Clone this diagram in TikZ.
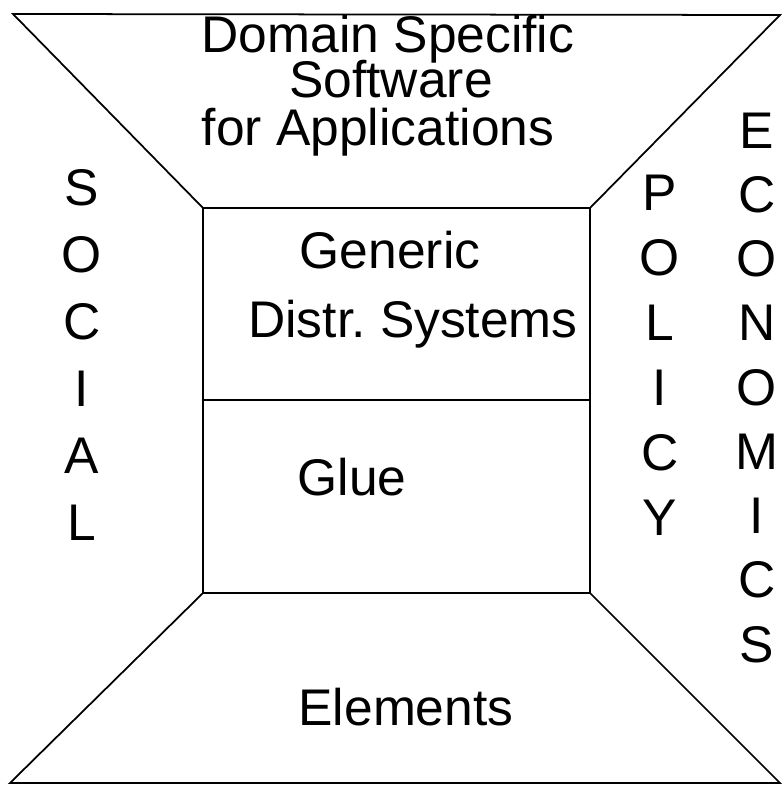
\documentclass[tikz,border=0pt]{standalone}
\usepackage{fontspec}
\setmainfont{Liberation Sans}
\frenchspacing

\begin{document}
\begin{tikzpicture}[x=0.03cm, y=-0.03cm, line width=1.5pt,
  words/.style={font=\fontsize{44}{44}\selectfont, inner sep=0pt, anchor=base},
  letter/.style={font=\fontsize{44}{44}\selectfont, inner sep=0pt, anchor=base}]
\useasboundingbox (0,0) rectangle (782,786);

% Corners of the outer frame and of the inner box
\coordinate (otl) at (13,14);
\coordinate (otr) at (780,15);
\coordinate (obl) at (10,783);
\coordinate (obr) at (780,783);
\coordinate (itl) at (203,208);
\coordinate (itr) at (590,208);
\coordinate (ibl) at (203,593);
\coordinate (ibr) at (590,593);
\coordinate (iml) at (203,400);
\coordinate (imr) at (590,400);

% Draw the top and bottom trapezoids
\draw (otl) -- (otr) -- (itr) -- (itl) -- cycle;
\draw (ibl) -- (ibr) -- (obr) -- (obl) -- cycle;

% Draw the inner box and its dividing line
\draw (itl) rectangle (ibr);
\draw (iml) -- (imr);

% Layer names
\node[words] (dss1) at (388,53) {Domain Specific};
\node[words] (dss2) at (391,97) {Software};
\node[words] (dss3) at (378,145) {for Applications};
\node[words] (gen1) at (390,268) {Generic};
\node[words] (gen2) at (413,337) {Distr. Systems};
\node[words] (glue) at (352,495) {Glue};
\node[words] (elem) at (406,725) {Elements};

% Side words, one letter below the other
\foreach \l [count=\i from 0] in {S,O,C,I,A,L}
  \node[letter] (soc-\i) at (82,205+67*\i) {\l};
\foreach \l [count=\i from 0] in {P,O,L,I,C,Y}
  \node[letter] (pol-\i) at (660,210+65*\i) {\l};
\foreach \l [count=\i from 0] in {E,C,O,N,O,M,I,C,S}
  \node[letter] (eco-\i) at (757,148+64.25*\i) {\l};

\end{tikzpicture}
\end{document}
